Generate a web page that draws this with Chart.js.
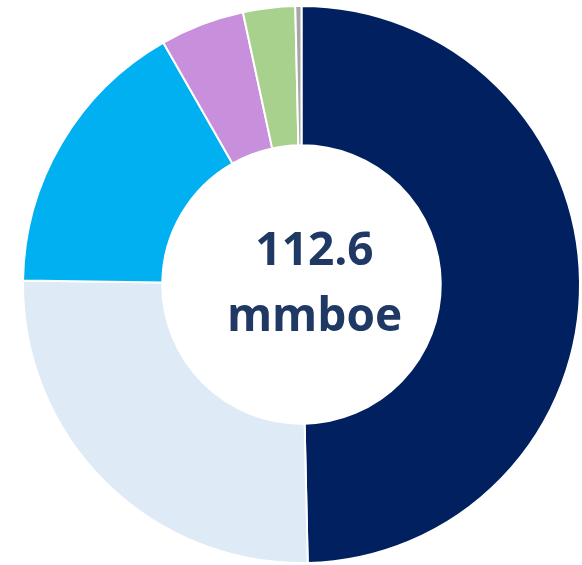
<!DOCTYPE html>
<html>
<head>
<meta charset="utf-8">
<script src="https://cdn.jsdelivr.net/npm/chart.js@4/dist/chart.umd.min.js"></script>
<style>
  html, body { margin: 0; padding: 0; background: #fff; }
  #wrap { width: 582px; height: 565px; }
</style>
</head>
<body>
<div id="wrap"><canvas id="chart"></canvas></div>
<script>
const categories = ['Segment A', 'Segment B', 'Segment C', 'Segment D', 'Segment E', 'Segment F']
const volumes = [55.9, 28.8, 18.6, 5.5, 3.4, 0.4]
const colors = ['#002060', '#DEEAF6', '#00B0F0', '#C88FDD', '#A9D18E', '#A6A6A6']
const centerLines = ['112.6', 'mmboe']

const centerText = {
  id: 'centerText',
  afterDraw(chart) {
    const meta = chart.getDatasetMeta(0)
    if (!meta.data.length) {
      return
    }
    const { x } = meta.data[0]
    const ctx = chart.ctx
    ctx.save()
    ctx.fillStyle = '#1F3864'
    ctx.font = 'bold 46px "Open Sans", "Liberation Sans", sans-serif'
    ctx.textAlign = 'center'
    ctx.textBaseline = 'alphabetic'
    // text sits a little right of the hole's centre in the original
    ctx.fillText(centerLines[0], x + 13, 265)
    ctx.fillText(centerLines[1], x + 13, 331)
    ctx.restore()
  }
}

const chart = new Chart(document.getElementById('chart'), {
  type: 'doughnut',
  data: {
    labels: categories,
    datasets: [
      {
        data: volumes,
        backgroundColor: colors,
        borderColor: '#ffffff',
        borderWidth: 2
      }
    ]
  },
  options: {
    responsive: true,
    maintainAspectRatio: false,
    animation: false,
    cutout: '50%',
    layout: { padding: { left: 22, right: 1, top: 5, bottom: 1 } },
    plugins: {
      legend: { display: false },
      tooltip: { enabled: false }
    }
  },
  plugins: [centerText]
})
</script>
</body>
</html>
